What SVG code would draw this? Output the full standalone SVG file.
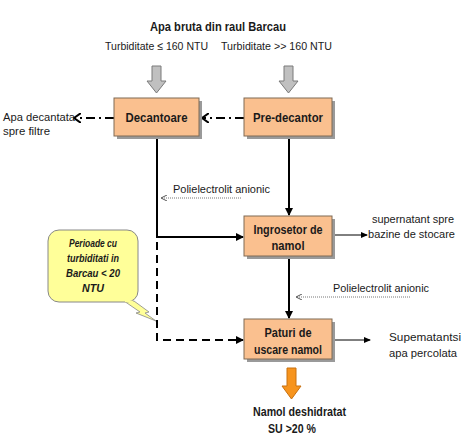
<svg xmlns="http://www.w3.org/2000/svg" width="474" height="448" viewBox="0 0 474 448">
<defs>
<style>
text{font-family:"Liberation Sans",Arial,sans-serif;fill:#1a1a1a}
.t{font-size:11.5px}
.b{font-size:12px;font-weight:bold}
.c{font-size:11px;font-weight:bold;font-style:italic}
.box{fill:#FAC08F;stroke:#7f6a55;stroke-width:1}
.sh{fill:#9a9a9a}
.ln{stroke:#000;stroke-width:2;fill:none}
.dd{stroke:#000;stroke-width:2;fill:none;stroke-dasharray:8 5}
.dda{stroke:#000;stroke-width:2;fill:none;stroke-dasharray:9 4 2 4}
.thin{stroke:#000;stroke-width:1;fill:none}
.dot{stroke:#777;stroke-width:1;fill:none;stroke-dasharray:1 1}
</style>
<marker id="ah" markerWidth="8" markerHeight="8" refX="7" refY="4" orient="auto" markerUnits="userSpaceOnUse"><path d="M0,0 L8,4 L0,8 Z" fill="#000"/></marker>
<marker id="ahs" markerWidth="7" markerHeight="6" refX="6" refY="3" orient="auto" markerUnits="userSpaceOnUse"><path d="M0,0 L7,3 L0,6 Z" fill="#000"/></marker>
<marker id="ao" markerWidth="8" markerHeight="10" refX="7" refY="5" orient="auto" markerUnits="userSpaceOnUse"><path d="M0,0 L7,5 L0,10" fill="none" stroke="#000" stroke-width="2"/></marker>
<marker id="ad" markerWidth="7" markerHeight="6" refX="6" refY="3" orient="auto" markerUnits="userSpaceOnUse"><path d="M0,0 L6,3 L0,6" fill="none" stroke="#555" stroke-width="1"/></marker>
</defs>
<rect width="474" height="448" fill="#fff"/>

<g id="source">
<text class="b" x="218" y="31" text-anchor="middle" textLength="136" lengthAdjust="spacingAndGlyphs">Apa bruta din raul Barcau</text>
<text class="t" x="105" y="50" textLength="103" lengthAdjust="spacingAndGlyphs">Turbiditate ≤ 160 NTU</text>
<text class="t" x="221" y="50" textLength="111" lengthAdjust="spacingAndGlyphs">Turbiditate &gt;&gt; 160 NTU</text>
<path d="M152,66 H161 V81 H166 L156.5,93 L147,81 H152 Z" fill="#c0c0c0" stroke="#7a7a7a" stroke-width="1"/>
<path d="M284,66 H293 V81 H298 L288.5,93 L279,81 H284 Z" fill="#c0c0c0" stroke="#7a7a7a" stroke-width="1"/>
</g>

<g id="connectors">
<line class="dda" x1="244" y1="118" x2="202" y2="118" marker-end="url(#ao)"/>
<line class="dda" x1="114" y1="118" x2="74" y2="118" marker-end="url(#ao)"/>
<line class="ln" x1="157" y1="137" x2="157" y2="238"/>
<line class="ln" x1="156" y1="237" x2="243" y2="237" marker-end="url(#ah)"/>
<path class="dd" d="M157,242 V340 H243" marker-end="url(#ah)"/>
<line class="ln" x1="289" y1="135" x2="289" y2="215" marker-end="url(#ah)"/>
<line class="ln" x1="289" y1="256" x2="289" y2="318" marker-end="url(#ah)"/>
<line class="thin" x1="332" y1="235" x2="367" y2="235" marker-end="url(#ahs)"/>
<line class="thin" x1="332" y1="340" x2="370" y2="340" marker-end="url(#ahs)"/>
<line class="dot" x1="241" y1="198" x2="161" y2="198" marker-end="url(#ad)"/>
<line class="dot" x1="410" y1="297" x2="296" y2="297" marker-end="url(#ad)"/>
<path d="M287,368 H296 V386 H301 L291.5,399 L282,386 H287 Z" fill="#F7941D" stroke="#c87010" stroke-width="1"/>
</g>

<g id="decantoare">
<rect class="sh" x="117" y="101" width="85" height="38"/>
<rect class="box" x="114" y="98" width="85" height="38"/>
<text class="b" x="156.5" y="122" text-anchor="middle" textLength="62" lengthAdjust="spacingAndGlyphs">Decantoare</text>
</g>

<g id="predecantor">
<rect class="sh" x="247" y="101" width="88" height="38"/>
<rect class="box" x="244" y="98" width="88" height="38"/>
<text class="b" x="288" y="122" text-anchor="middle" textLength="70" lengthAdjust="spacingAndGlyphs">Pre-decantor</text>
</g>

<g id="ingrosetor">
<rect class="sh" x="247" y="219" width="88" height="40"/>
<rect class="box" x="244" y="216" width="88" height="40"/>
<text class="b" x="288" y="234" text-anchor="middle" textLength="69" lengthAdjust="spacingAndGlyphs">Ingrosetor de</text>
<text class="b" x="288" y="250" text-anchor="middle" textLength="33" lengthAdjust="spacingAndGlyphs">namol</text>
</g>

<g id="paturi">
<rect class="sh" x="247" y="322" width="88" height="40"/>
<rect class="box" x="244" y="319" width="88" height="40"/>
<text class="b" x="288" y="337" text-anchor="middle" textLength="47" lengthAdjust="spacingAndGlyphs">Paturi de</text>
<text class="b" x="288" y="354" text-anchor="middle" textLength="68" lengthAdjust="spacingAndGlyphs">uscare namol</text>
</g>

<g id="labels">
<text class="t" x="3" y="121" textLength="72" lengthAdjust="spacingAndGlyphs">Apa decantata</text>
<text class="t" x="3" y="135" textLength="47" lengthAdjust="spacingAndGlyphs">spre filtre</text>
<text class="t" x="173" y="193" textLength="97" lengthAdjust="spacingAndGlyphs">Polielectrolit anionic</text>
<text class="t" x="333" y="292" textLength="96" lengthAdjust="spacingAndGlyphs">Polielectrolit anionic</text>
<text class="t" x="372" y="223" textLength="82" lengthAdjust="spacingAndGlyphs">supernatant spre</text>
<text class="t" x="368" y="238" textLength="87" lengthAdjust="spacingAndGlyphs">bazine de stocare</text>
<text class="t" x="389" y="341" textLength="72" lengthAdjust="spacingAndGlyphs">Supematantsi</text>
<text class="t" x="389" y="357" textLength="68" lengthAdjust="spacingAndGlyphs">apa percolata</text>
<text class="b" x="253" y="416" textLength="93" lengthAdjust="spacingAndGlyphs">Namol deshidratat</text>
<text class="b" x="268" y="433" textLength="48" lengthAdjust="spacingAndGlyphs">SU &gt;20 %</text>
</g>

<g id="callout">
<path d="M124,301 L140,312 L136,313 L156,321 L145,313 L149,312 L134,301 Z" fill="#FFFF99" stroke="#888" stroke-width="0.8"/>
<rect x="48" y="230" width="90" height="72" rx="11" ry="11" fill="#FFFF99" stroke="#888" stroke-width="1"/>
<path d="M125,301.5 L133,301.5" stroke="#FFFF99" stroke-width="1.5"/>
<text class="c" x="93" y="247" text-anchor="middle" textLength="48" lengthAdjust="spacingAndGlyphs">Perioade cu</text>
<text class="c" x="93" y="262" text-anchor="middle" textLength="52" lengthAdjust="spacingAndGlyphs">turbiditati in</text>
<text class="c" x="93" y="277" text-anchor="middle" textLength="54" lengthAdjust="spacingAndGlyphs">Barcau &lt; 20</text>
<text class="c" x="93" y="292" text-anchor="middle" textLength="22" lengthAdjust="spacingAndGlyphs">NTU</text>
</g>
</svg>
